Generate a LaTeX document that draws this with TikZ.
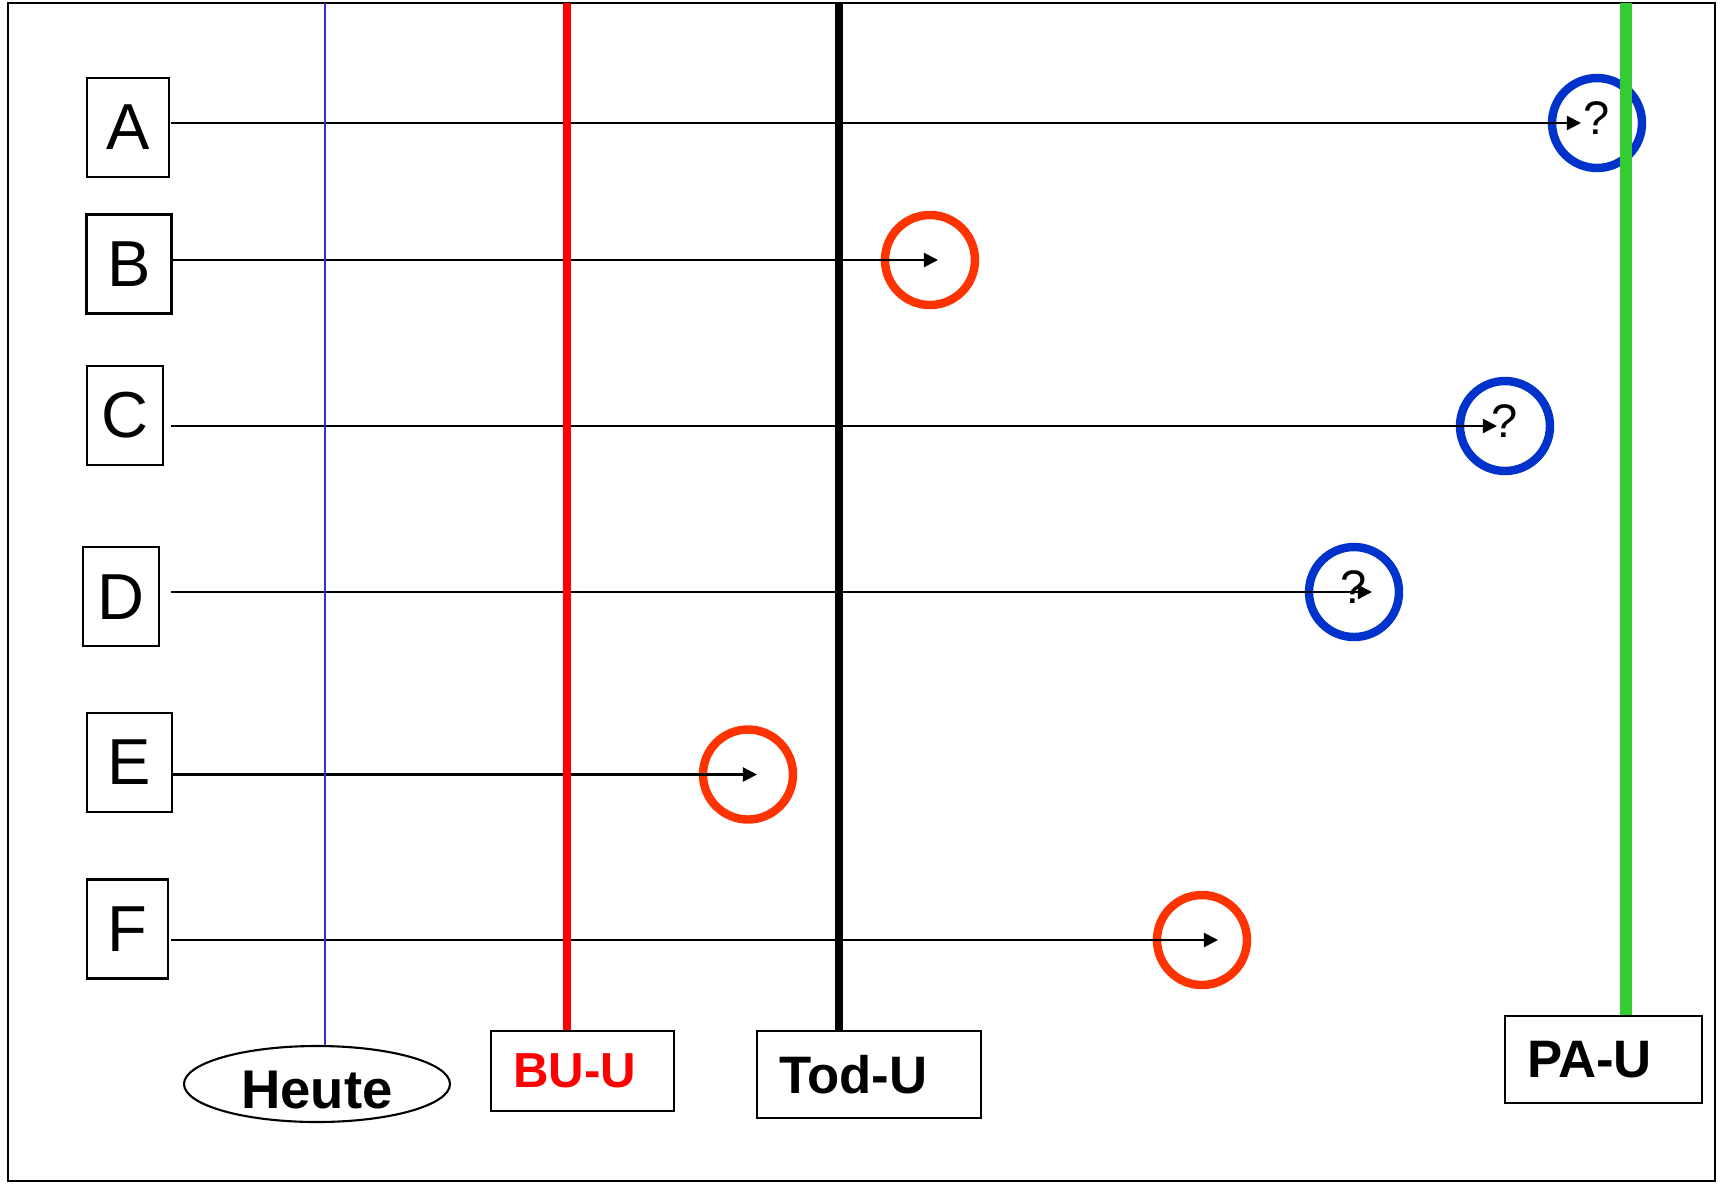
\documentclass[tikz,border=0pt]{standalone}
\usepackage{fontspec}
\setmainfont{Liberation Sans}
\usepackage{tikz}
\usetikzlibrary{arrows,arrows.meta,positioning,shapes}
\definecolor{heuteblue}{RGB}{51,51,204}
\definecolor{ringred}{RGB}{255,51,0}
\definecolor{ringblue}{RGB}{0,51,204}
\definecolor{pagreen}{RGB}{51,204,51}

\begin{document}
\begin{tikzpicture}
\tikzstyle{letterbox}=[draw=black,line width=0.6pt,minimum height=0.99cm,inner sep=0pt,font=\fontsize{18.5}{20}\selectfont]
\tikzstyle{ring}=[circle,line width=2.4pt,minimum size=0.9cm,inner sep=0pt,text depth=0.1cm,font=\fontsize{13.4}{14}\selectfont]
\tikzstyle{arrow}=[line width=0.6pt,-{Triangle[length=4pt,width=4pt]}]
\tikzstyle{tagbox}=[draw=black,line width=0.6pt,inner xsep=0.22cm,inner ysep=0pt,align=left,font=\fontsize{15}{16}\selectfont\bfseries]
\useasboundingbox (0,0) rectangle (17.2,-11.83);
\draw [line width=0.6pt] (0.08,-0.03) rectangle (17.15,-11.81);

% the six cases
\node [letterbox,minimum width=0.82cm] at (1.28,-1.275) (A) {A};
\node [letterbox,minimum width=0.85cm] at (1.29,-2.64) (B) {B};
\node [letterbox,minimum width=0.76cm] at (1.247,-4.153) (C) {C};
\node [letterbox,minimum width=0.76cm] at (1.21,-5.967) (D) {D};
\node [letterbox,minimum width=0.85cm] at (1.292,-7.625) (E) {E};
\node [letterbox,minimum width=0.81cm] at (1.272,-9.29) (F) {F};

% where each case ends
\node [ring,draw=ringblue] at (15.97,-1.23) (ca) {?};
\node [ring,draw=ringred] at (9.30,-2.60) (cb) {};
\node [ring,draw=ringblue] at (15.05,-4.26) (cc) {?};
\node [ring,draw=ringblue] at (13.54,-5.92) (cd) {?};
\node [ring,draw=ringred] at (7.48,-7.745) (ce) {};
\node [ring,draw=ringred] at (12.02,-9.40) (cf) {};

\coordinate (start) at (1.71,0);
\draw [arrow] (start |- ca) -- ([xshift=-1.6mm]ca.center);
\draw [arrow] (start |- cb) -- ([xshift=0.8mm]cb.center);
\draw [arrow] (start |- cc) -- ([xshift=-0.8mm]cc.center);
\draw [arrow] (start |- cd) -- ([xshift=1.8mm]cd.center);
\draw [arrow] (start |- ce) -- ([xshift=0.9mm]ce.center);
\draw [arrow] (start |- cf) -- ([xshift=1.6mm]cf.center);

% time marks at the bottom
\node [ellipse,draw=black,line width=0.6pt,minimum width=2.66cm,minimum height=0.76cm,inner sep=0pt,text height=0.48cm,text depth=0pt,font=\fontsize{15.5}{16}\selectfont\bfseries] at (3.17,-10.84) (heute) {Heute};
\node [tagbox,text=red,font=\fontsize{14}{15}\selectfont\bfseries,text width=1.39cm,minimum height=0.80cm] at (5.825,-10.71) (bu) {BU-U};
\node [tagbox,text width=1.80cm,minimum height=0.87cm] at (8.69,-10.745) (tod) {Tod-U};
\node [tagbox,text width=1.53cm,minimum height=0.87cm] at (16.035,-10.595) (pa) {PA-U};

\coordinate (th) at (3.25,-0.03);
\coordinate (tr) at (5.67,-0.03);
\coordinate (tt) at (8.39,-0.03);
\coordinate (tg) at (16.26,-0.03);
\draw [heuteblue,line width=0.45pt] (th) -- (th |- heute.north);
\draw [red,line width=2.3pt] (tr) -- (tr |- bu.north);
\draw [black,line width=2.3pt] (tt) -- (tt |- tod.north);
\draw [pagreen,line width=3.4pt] (tg) -- (tg |- pa.north);
\end{tikzpicture}
\end{document}
